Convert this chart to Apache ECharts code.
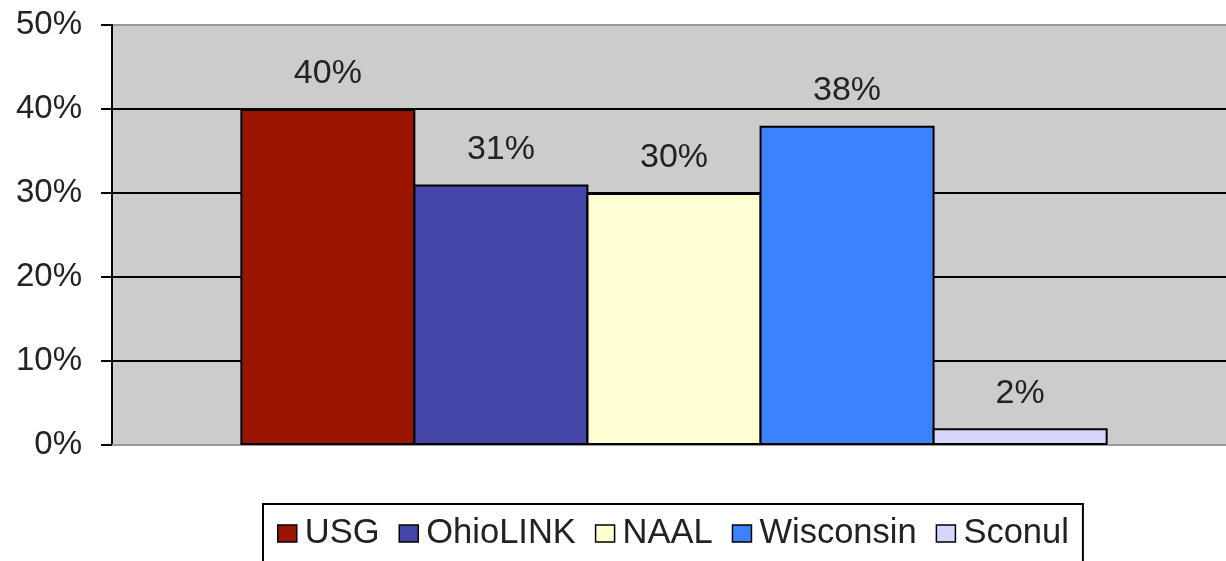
<!DOCTYPE html>
<html>
<head>
<meta charset="utf-8">
<script src="https://cdn.jsdelivr.net/npm/echarts@6/dist/echarts.min.js"></script>
<style>
html,body{margin:0;padding:0;background:#fff;overflow:hidden;}
#chart{width:1236px;height:561px;}
</style>
</head>
<body>
<div id="chart"></div>
<script>
const categories = [''];
const seriesNames = ['USG', 'OhioLINK', 'NAAL', 'Wisconsin', 'Sconul'];
const seriesValues = [40, 31, 30, 38, 2];
const seriesColors = ['#9b1400', '#4447a8', '#ffffd2', '#3c82ff', '#d6d6fa'];
const yTicks = [0, 10, 20, 30, 40, 50];

const FONT = '"Liberation Sans", Arial, sans-serif';

const chart = echarts.init(document.getElementById('chart'), null, {renderer: 'canvas'});

const series = seriesNames.map((name, i) => ({
  name: name,
  type: 'bar',
  data: [seriesValues[i]],
  barWidth: 175,
  barGap: '-1.1%',
  itemStyle: {color: seriesColors[i], borderColor: '#000', borderWidth: 2},
  label: {
    show: true,
    position: 'top',
    distance: 18,
    formatter: '{c}%',
    fontFamily: FONT,
    fontSize: 34,
    color: '#222'
  }
}));

chart.setOption({
  animation: false,
  backgroundColor: '#fff',
  grid: {
    left: 112, right: 0, top: 25, bottom: 116,
    show: true, backgroundColor: '#cccccc', borderWidth: 0
  },
  xAxis: {
    type: 'category',
    data: categories,
    axisLine: {show: true, lineStyle: {color: '#999', width: 2}},
    axisTick: {show: false},
    axisLabel: {show: false}
  },
  yAxis: {
    type: 'value',
    min: yTicks[0],
    max: yTicks[yTicks.length - 1],
    interval: 10,
    axisLine: {show: true, lineStyle: {color: '#000', width: 2}},
    axisTick: {show: true, inside: false, length: 11, lineStyle: {color: '#000', width: 2}},
    axisLabel: {
      formatter: '{value}%',
      fontFamily: FONT,
      fontSize: 33,
      color: '#222',
      margin: 30
    },
    splitLine: {
      show: true,
      lineStyle: {color: ['#999', '#000', '#000', '#000', '#000', '#999'], width: 2}
    }
  },
  legend: {
    show: true,
    data: seriesNames,
    left: 263,
    top: 504,
    orient: 'horizontal',
    icon: 'rect',
    itemWidth: 19,
    itemHeight: 17,
    itemGap: 19,
    borderColor: '#000',
    borderWidth: 2,
    padding: [12, 14, 30, 14],
    textStyle: {fontFamily: FONT, fontSize: 34.5, color: '#222', padding: [0, 0, 0, 3]},
    itemStyle: {borderColor: '#000', borderWidth: 1.5}
  },
  series: series
});
</script>
</body>
</html>
